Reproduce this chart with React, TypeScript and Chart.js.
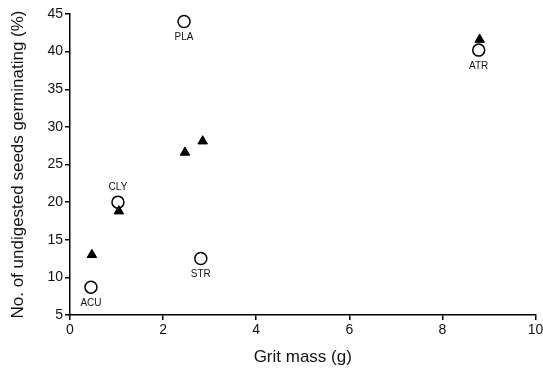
import React, { useEffect, useRef } from "react";
import { Chart, registerables } from "chart.js";

Chart.register(...registerables);

const circleX = [0.45, 1.03, 2.45, 2.81, 8.78];
const circleY = [8.7, 20.0, 44.0, 12.5, 40.2];
const circleNames = ["ACU", "CLY", "PLA", "STR", "ATR"];
const namePlacement = ["below", "above", "below", "below", "below"];

const triX = [0.47, 1.05, 2.47, 2.85, 8.8];
const triY = [13.0, 18.8, 26.6, 28.1, 41.6];

const xTitle = "Grit mass (g)";
const yTitle = "No. of undigested seeds germinating (%)";

const FONT = "'Liberation Sans', Arial, Helvetica, sans-serif";

const labelPlugin = {
  id: "pointNames",
  afterDatasetsDraw(chart: any) {
    const meta = chart.getDatasetMeta(1);
    const ctx = chart.ctx;
    ctx.save();
    ctx.font = `10px ${FONT}`;
    ctx.fillStyle = "#111";
    ctx.textAlign = "center";
    ctx.textBaseline = "middle";
    meta.data.forEach((el: any, i: number) => {
      const off = namePlacement[i] === "above" ? -15 : 16;
      ctx.fillText(circleNames[i], el.x, el.y + off);
    });
    ctx.restore();
  },
};

export default function App() {
  const ref = useRef<HTMLCanvasElement>(null);
  useEffect(() => {
    if (!ref.current) return;
    const chart = new Chart(ref.current, {
      type: "scatter",
      data: {
        datasets: [
          {
            label: "triangles",
            data: triX.map((x, i) => ({ x, y: triY[i] })),
            pointStyle: "triangle",
            pointRadius: 5.5,
            backgroundColor: "#000",
            borderColor: "#000",
            borderWidth: 1,
          },
          {
            label: "circles",
            data: circleX.map((x, i) => ({ x, y: circleY[i] })),
            pointStyle: "circle",
            pointRadius: 6,
            backgroundColor: "#fff",
            borderColor: "#000",
            borderWidth: 1.5,
          },
        ],
      },
      options: {
        animation: false,
        responsive: false,
        layout: { padding: { top: 14, right: 7, left: 0, bottom: 0 } },
        plugins: { legend: { display: false }, tooltip: { enabled: false } },
        scales: {
          x: {
            type: "linear",
            min: 0,
            max: 10,
            ticks: { stepSize: 2, color: "#111", font: { size: 14, family: FONT }, padding: 2 },
            grid: { drawOnChartArea: false, color: "#000", tickLength: 5, lineWidth: 1.5 },
            border: { display: true, color: "#000", width: 1.5 },
            title: { display: true, text: xTitle, color: "#111", font: { size: 17, family: FONT }, padding: { top: 6 } },
            afterFit: (s: any) => {
              s.height = 57;
              s.paddingLeft = 0;
              s.paddingRight = 0;
            },
          },
          y: {
            type: "linear",
            min: 5,
            max: 45,
            ticks: { stepSize: 5, color: "#111", font: { size: 14, family: FONT }, padding: 2 },
            grid: { drawOnChartArea: false, color: "#000", tickLength: 5, lineWidth: 1.5 },
            border: { display: true, color: "#000", width: 1.5 },
            title: { display: true, text: yTitle, color: "#111", font: { size: 17, family: FONT }, padding: { top: 8, bottom: 0 } },
            afterFit: (s: any) => {
              s.width = 70;
            },
          },
        },
      },
      plugins: [labelPlugin],
    });
    return () => chart.destroy();
  }, []);
  return (
    <div style={{ position: "absolute", left: 0, top: 0, width: 543, height: 372, background: "#fff" }}>
      <canvas ref={ref} width={543} height={372} />
    </div>
  );
}
